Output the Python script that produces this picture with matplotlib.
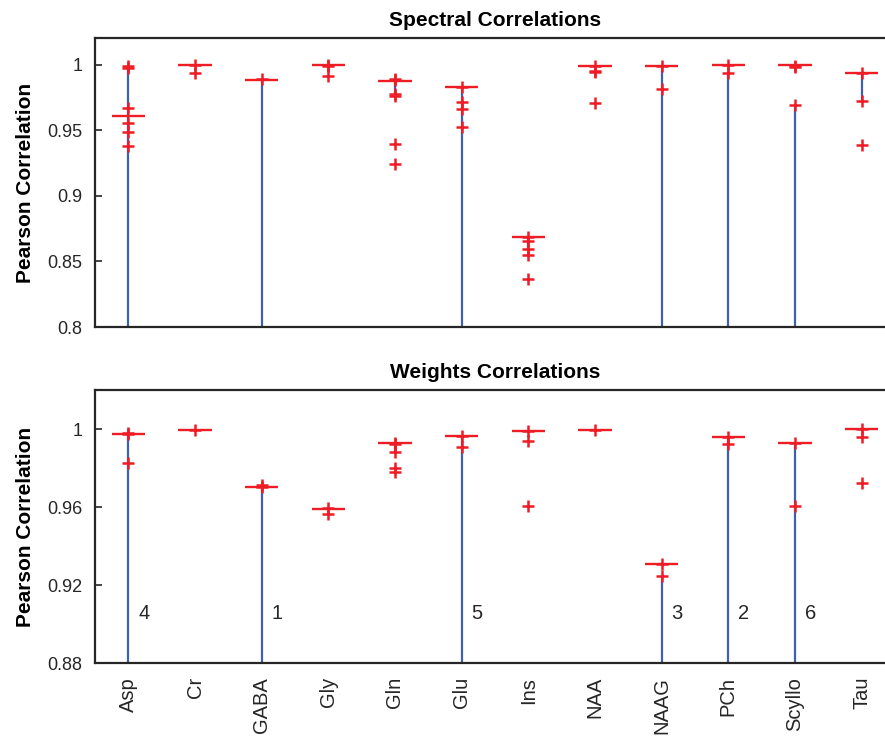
from matplotlib import pyplot as plt
import numpy as np

"""
    Spectral / weights correlation box plots per metabolite
"""

plt.rcParams['font.family'] = ['Liberation Sans', 'DejaVu Sans']

metabolites = ["Asp", "Cr", "GABA", "Gly", "Gln", "Glu", "Ins", "NAA", "NAAG", "PCh", "Scyllo", "Tau"]

# spectral correlations
spec_median = [0.9613, 0.9997, 0.9888, 1.0, 0.988, 0.983, 0.8687, 0.9995, 0.9995, 1.0, 1.0, 0.9936]
spec_whisk_lo = [0.70, 0.9997, 0.70, 1.0, 0.977, 0.70, 0.859, 0.9995, 0.70, 0.70, 0.70, 0.9728]
spec_whisk_hi = [0.999, 0.9997, 0.9888, 1.0, 0.988, 0.983, 0.8687, 0.9995, 0.9995, 0.994, 0.9692, 0.9936]
spec_outliers = [
    [0.9995, 0.998, 0.967, 0.956, 0.9486, 0.9384],
    [0.9997, 0.9941],
    [0.989],
    [1.0, 0.9995, 0.9916],
    [0.9885, 0.989, 0.978, 0.976, 0.940, 0.9244],
    [0.983, 0.972, 0.9667, 0.9527],
    [0.8687, 0.866, 0.8595, 0.855, 0.8366],
    [0.9995, 0.9952, 0.9946, 0.9707],
    [0.9995, 0.9814],
    [1.0, 0.994],
    [0.9995, 0.9985, 0.9692],
    [0.9936, 0.9728, 0.9387],
]

# weights correlations
wt_median = [0.9976, 0.9997, 0.9704, 0.9591, 0.9928, 0.9964, 0.9991, 0.9993, 0.9306, 0.9959, 0.9928, 0.9998]
wt_whisk_lo = [0.80, 0.9997, 0.80, 0.9591, 0.9884, 0.80, 0.9991, 0.9993, 0.80, 0.80, 0.80, 0.9998]
wt_whisk_hi = [0.998, 0.9997, 0.9704, 0.9591, 0.9928, 0.9964, 0.9991, 0.9993, 0.9248, 0.9959, 0.9928, 0.9998]
wt_outliers = [
    [0.998, 0.9975, 0.9824],
    [0.9997],
    [0.9711, 0.9705],
    [0.9597, 0.9562],
    [0.993, 0.9925, 0.9884, 0.9798, 0.9778],
    [0.9964, 0.9909],
    [0.9991, 0.9938, 0.9605],
    [0.9993],
    [0.9306, 0.9248],
    [0.9959, 0.9921],
    [0.9928, 0.9607],
    [0.9998, 0.9961, 0.9725],
]
wt_counts = {"Asp": "4", "GABA": "1", "Glu": "5", "NAAG": "3", "PCh": "2", "Scyllo": "6"}

RED = "#ee1c25"
BLUE = "#3f5fb3"
DARK = "#262626"


def draw_panel(ax, med, lo, hi, outl, ylim, yticks, ytl, title):
    x = np.arange(1, len(metabolites) + 1)
    ax.vlines(x, lo, hi, color=BLUE, lw=1.6, zorder=2)
    ax.hlines(med, x - 0.25, x + 0.25, color=RED, lw=1.7, zorder=3)
    for xi, vals in zip(x, outl):
        ax.plot([xi] * len(vals), vals, "+", color=RED, ms=8, mew=1.8, zorder=4)
    ax.set_xlim(0.5, len(metabolites) + 0.5)
    ax.set_ylim(*ylim)
    ax.set_yticks(yticks)
    ax.set_yticklabels(ytl)
    ax.set_xticks(x)
    ax.set_ylabel("Pearson Correlation", fontsize=15, fontweight="bold", labelpad=9)
    ax.set_title(title, fontsize=15, fontweight="bold", pad=9)
    ax.tick_params(axis="y", direction="in", length=5, width=1.2, labelsize=13,
                   pad=9, colors=DARK, right=True)
    ax.tick_params(axis="x", direction="in", length=0, labelsize=14.5, pad=10, colors=DARK)
    for s in ax.spines.values():
        s.set_linewidth(1.6)
        s.set_color(DARK)


fig = plt.figure(figsize=(8.85, 7.37), dpi=100)
ax1 = fig.add_axes([95 / 885, 1 - 327 / 737, 800 / 885, 289 / 737])
ax2 = fig.add_axes([95 / 885, 1 - 663 / 737, 800 / 885, 273 / 737])

draw_panel(ax1, spec_median, spec_whisk_lo, spec_whisk_hi, spec_outliers,
           (0.8, 1.0206), [0.8, 0.85, 0.9, 0.95, 1.0],
           ["0.8", "0.85", "0.9", "0.95", "1"], "Spectral Correlations")
ax1.set_xticklabels([])

draw_panel(ax2, wt_median, wt_whisk_lo, wt_whisk_hi, wt_outliers,
           (0.88, 1.02), [0.88, 0.92, 0.96, 1.0],
           ["0.88", "0.92", "0.96", "1"], "Weights Correlations")
ax2.set_xticklabels(metabolites, rotation=90)

for name, c in wt_counts.items():
    i = metabolites.index(name) + 1
    ax2.text(i + 0.15, 0.9056, c, fontsize=14.5, color=DARK, ha="left", va="center")

fig.savefig("out.png", dpi=100)
